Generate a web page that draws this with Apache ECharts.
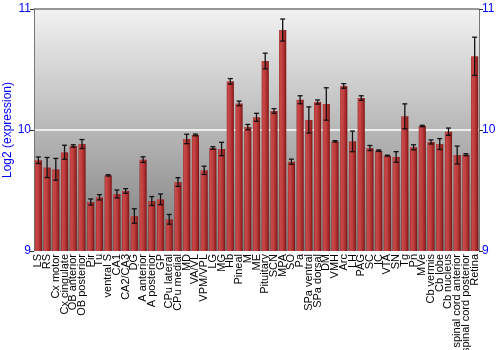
<!DOCTYPE html>
<html><head><meta charset="utf-8">
<script src="https://cdn.jsdelivr.net/npm/echarts@6/dist/echarts.min.js"></script>
<style>html,body{margin:0;padding:0;background:#fff}#c{width:500px;height:350px}</style>
</head><body><div id="c"></div>
<script>
var categories = ["LS","RS","Cx motor","Cx cingulate","OB anterior","OB posterior","Pir","Tu","ventral S","CA1","CA2/CA3","DG","A anterior","A posterior","GP","CPu lateral","CPu medial","MD","VA/VL","VPM/VPL","LG","MG","Hb","Pineal","M","ME","Pituitary","SCN","MPA","SO","Pa","SPa ventral","SPa dorsal","DM","VMH","Arc","LH","PAG","SC","IC","VTA","SN","Tg","Pn","MVe","Cb vermis","Cb lobe","Cb nucleus","spinal cord anterior","spinal cord posterior","Retina"];
var values = [9.75,9.69,9.675,9.816,9.868,9.884,9.405,9.444,9.625,9.471,9.496,9.289,9.755,9.413,9.427,9.262,9.570,9.926,9.959,9.667,9.851,9.843,10.402,10.22,10.024,10.105,10.57,10.157,10.826,9.738,10.25,10.083,10.231,10.215,9.906,10.364,9.906,10.264,9.851,9.829,9.788,9.777,10.113,9.857,10.033,9.901,9.884,9.986,9.793,9.796,10.609];
var errors = [0.027,0.083,0.09,0.058,0.01,0.037,0.025,0.022,0.005,0.033,0.019,0.06,0.023,0.037,0.044,0.04,0.036,0.039,0.007,0.034,0.011,0.055,0.023,0.019,0.022,0.033,0.065,0.019,0.091,0.021,0.033,0.108,0.017,0.134,0.006,0.019,0.085,0.019,0.021,0.006,0.004,0.044,0.103,0.021,0.006,0.017,0.045,0.03,0.074,0.008,0.158];
var yTicks = [9, 10, 11];

var chart = echarts.init(document.getElementById('c'), null, {renderer:'canvas'});
var errData = values.map(function(v,i){ return [i, v - errors[i], v + errors[i]]; });
var blue = '#0000ff';
function yAxisCfg(pos){
  return {
    type:'value', position:pos, min:yTicks[0], max:yTicks[yTicks.length-1], interval:1,
    axisLine:{show:true, lineStyle:{color:'#777', width:1}},
    axisTick:{show:true, length:4, lineStyle:{color:'#333'}},
    axisLabel:{color:blue, fontSize:12, fontFamily:'Liberation Sans, Arial, sans-serif', margin:3},
    splitLine:{show: pos==='left', lineStyle:{color:['rgba(0,0,0,0)','#ffffff','#777777'], width:1.5}}
  };
}
var left = yAxisCfg('left');
left.name = 'Log2 (expression)';
left.nameLocation = 'middle';
left.nameGap = 20;
left.nameMoveOverlap = false;
left.nameTextStyle = {color:blue, fontSize:12, fontFamily:'Liberation Sans, Arial, sans-serif'};
chart.setOption({
  animation:false,
  grid:{left:34, right:21, top:9, bottom:99, show:true, containLabel:false, outerBoundsMode:'none',
    backgroundColor:{type:'linear', x:0, y:0, x2:0, y2:1, colorStops:[{offset:0,color:'#f2f2f2'},{offset:1,color:'#7c7c7c'}]},
    borderColor:'#777', borderWidth:0},
  xAxis:{type:'category', data:categories,
    axisLine:{show:false}, axisTick:{show:false},
    axisLabel:{interval:0, rotate:90, fontSize:11, color:'#000', margin:3, fontFamily:'Liberation Sans, Arial, sans-serif'}},
  yAxis:[left, yAxisCfg('right')],
  series:[
    {type:'bar', data:values, barCategoryGap:'18%',
      itemStyle:{color:{type:'linear', x:0, y:0, x2:1, y2:0, colorStops:[
        {offset:0,color:'#9a2a2a'},{offset:0.15,color:'#c84848'},{offset:0.45,color:'#c04040'},{offset:0.8,color:'#a02626'},{offset:1,color:'#741414'}]}}},
    {type:'custom', data:errData, z:5,
      renderItem:function(params, api){
        var x = api.value(0);
        var lo = api.coord([x, api.value(1)]);
        var hi = api.coord([x, api.value(2)]);
        var hw = 2.5;
        var st = {stroke:'#111', lineWidth:1.3};
        return {type:'group', children:[
          {type:'line', shape:{x1:lo[0], y1:lo[1], x2:hi[0], y2:hi[1]}, style:st},
          {type:'line', shape:{x1:lo[0]-hw, y1:lo[1], x2:lo[0]+hw, y2:lo[1]}, style:st},
          {type:'line', shape:{x1:hi[0]-hw, y1:hi[1], x2:hi[0]+hw, y2:hi[1]}, style:st}
        ]};
      }}
  ]
});
</script></body></html>
